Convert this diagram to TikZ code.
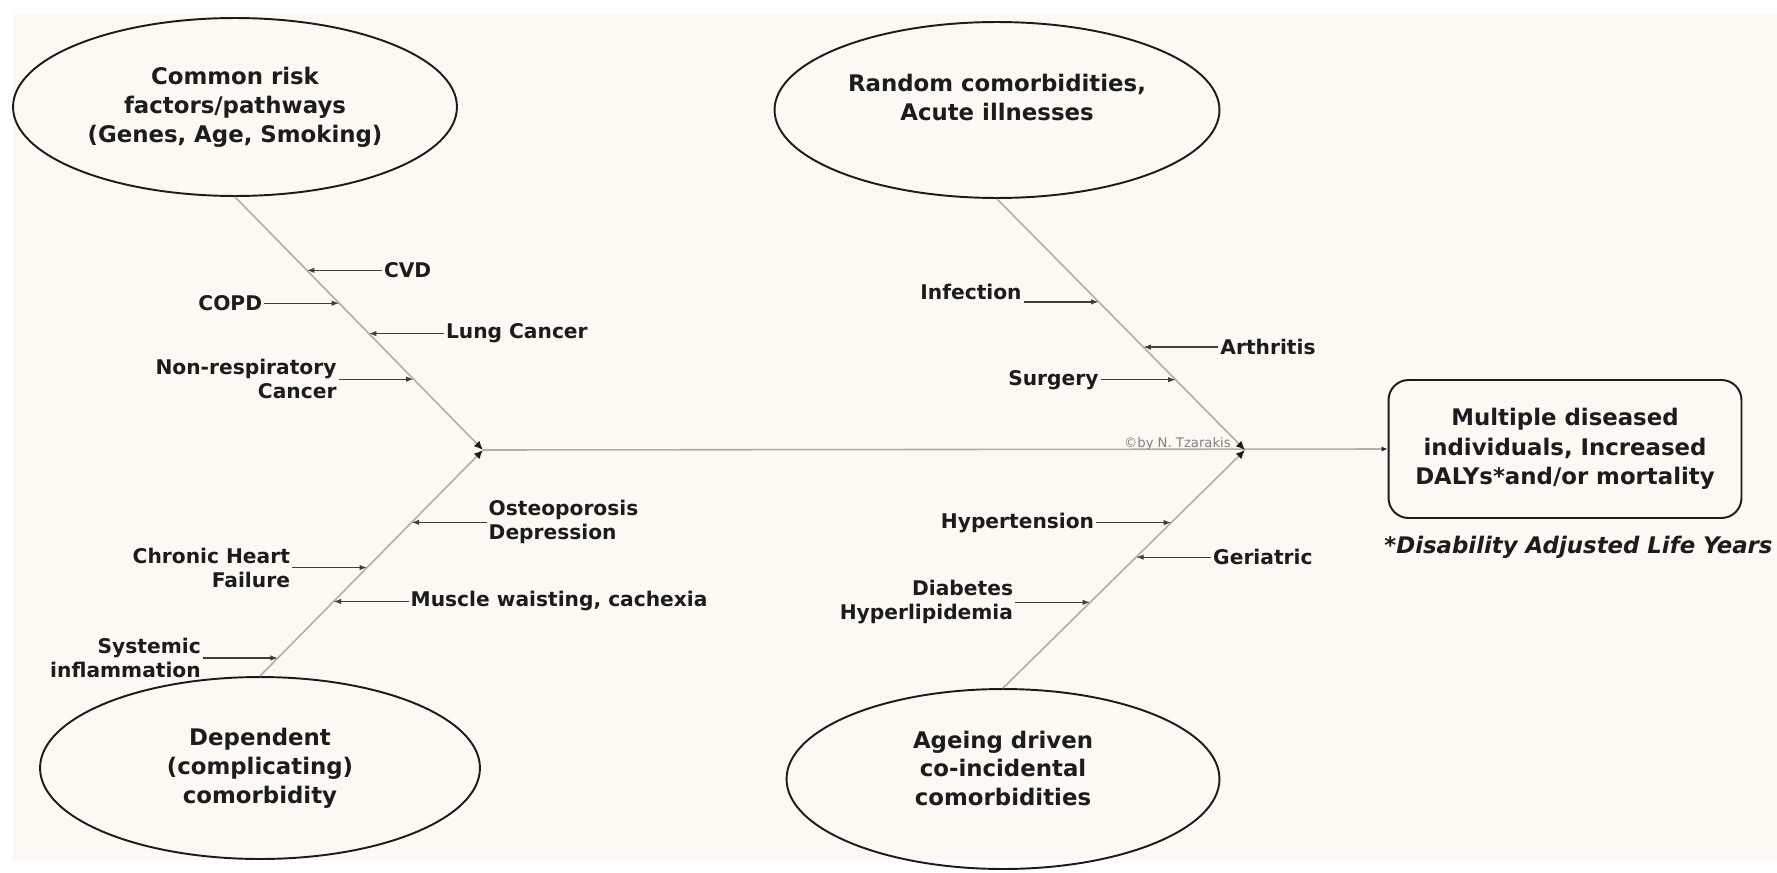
\documentclass[tikz,border=0pt]{standalone}
\usepackage{fontspec}
\setmainfont{DejaVu Sans}
\usepackage{xcolor}
\usepackage{tikz}
\usetikzlibrary{arrows.meta,positioning,shapes.geometric}

\definecolor{paper}{HTML}{FCF8F2}
\definecolor{bonegray}{HTML}{B3ADA7}
\definecolor{ink}{HTML}{1C1C1C}

\begin{document}
\begin{tikzpicture}[
  x=0.02cm, y=-0.02cm,
  node distance=1.5cm,
  ovaltext/.style={align=center, font=\fontsize{13}{16.4}\selectfont\bfseries, text=ink},
  oval/.style={ellipse, draw=ink, line width=1.1pt, inner sep=0pt, ovaltext},
  outbox/.style={draw=ink, line width=1.1pt, rounded corners=0.4cm, inner sep=0pt, align=center, font=\fontsize{13}{16.7}\selectfont\bfseries, text=ink},
  lbl/.style={font=\fontsize{11.5}{13.6}\selectfont\bfseries, text=ink, inner sep=1pt, align=#1},
  lbl/.default=center,
  bone/.style={draw=bonegray, line width=0.9pt, -{Latex[length=1.8mm, width=1.6mm, color=ink]}},
  spine/.style={draw=bonegray, line width=0.9pt, -{Latex[length=1.2mm, width=1mm, color=ink]}},
  arrow/.style={draw=ink!85, line width=0.7pt, -{Latex[length=1.5mm, width=1.1mm]}},
]
\fill[white] (0,0) rectangle (1777,872);
\fill[paper] (13,14) rectangle (1777,860);
\useasboundingbox (0,0) rectangle (1777,872);

\node[oval, minimum width=8.88cm, minimum height=3.56cm] (risk) at (235,107) {Common risk\\factors/pathways\\(Genes, Age, Smoking)};
\node[oval, minimum width=8.9cm, minimum height=3.52cm] (random) at (997,110) {};
\node[ovaltext, yshift=7pt] (random_txt) at (random) {Random comorbidities,\\Acute illnesses};
\node[oval, minimum width=8.8cm, minimum height=3.64cm] (dep) at (260,768) {Dependent\\(complicating)\\comorbidity};
\node[oval, minimum width=8.66cm, minimum height=3.6cm] (ageing) at (1003,779) {};
\node[ovaltext, yshift=6pt] (ageing_txt) at (ageing) {Ageing driven\\co-incidental\\comorbidities};

\node[outbox, minimum width=7.06cm, minimum height=2.76cm] (outcome) at (1565,449) {Multiple diseased\\individuals, Increased\\DALYs*and/or mortality};
\node[font=\fontsize{13}{16}\selectfont\bfseries\itshape, text=ink, anchor=base west, inner sep=0pt] (daly_note) at (1384,553) {*Disability Adjusted Life Years};

\coordinate (jl) at (483,450);
\coordinate (jr) at (1245,450);

\draw[spine] (jl) -- (outcome.west);
\node[font=\fontsize{7.5}{9}\selectfont, text=gray, anchor=base east, inner sep=0pt] (credit) at (1231,447) {©by N. Tzarakis};

\draw[bone] (risk.south) -- (jl) coordinate[pos=0.29] (t_cvd) coordinate[pos=0.42] (t_copd) coordinate[pos=0.54] (t_lung) coordinate[pos=0.72] (t_nonresp);
\draw[bone] (dep.north) -- (jl) coordinate[pos=0.08] (t_sys) coordinate[pos=0.33] (t_muscle) coordinate[pos=0.48] (t_chf) coordinate[pos=0.68] (t_osteo);
\draw[bone] (random.south) -- (jr) coordinate[pos=0.41] (t_inf) coordinate[pos=0.59] (t_arth) coordinate[pos=0.72] (t_surg);
\draw[bone] (ageing.north) -- (jr) coordinate[pos=0.36] (t_diab) coordinate[pos=0.55] (t_ger) coordinate[pos=0.695] (t_hyp);

\node[lbl, right=of t_cvd] (cvd) {CVD};
\node[lbl, left=of t_copd] (copd) {COPD};
\node[lbl, right=of t_lung] (lung) {Lung Cancer};
\node[lbl=right, left=of t_nonresp] (nonresp) {Non-respiratory\\Cancer};

\node[lbl=left, right=of t_osteo] (osteo) {Osteoporosis\\Depression};
\node[lbl=right, left=of t_chf] (chf) {Chronic Heart\\Failure};
\node[lbl, right=of t_muscle] (muscle) {Muscle waisting, cachexia};
\node[lbl=right, left=of t_sys] (sys) {Systemic\\inflammation};

\node[lbl, left=of t_inf, anchor=south east] (inf) {Infection};
\node[lbl, right=of t_arth] (arth) {Arthritis};
\node[lbl, left=of t_surg] (surg) {Surgery};

\node[lbl, left=of t_hyp] (hyp) {Hypertension};
\node[lbl, right=of t_ger] (ger) {Geriatric};
\node[lbl=right, left=of t_diab] (diab) {Diabetes\\Hyperlipidemia};

\draw[arrow] (cvd) -- (t_cvd);
\draw[arrow] (copd) -- (t_copd);
\draw[arrow] (lung) -- (t_lung);
\draw[arrow] (nonresp) -- (t_nonresp);
\draw[arrow] (osteo) -- (t_osteo);
\draw[arrow] (chf) -- (t_chf);
\draw[arrow] (muscle) -- (t_muscle);
\draw[arrow] (sys) -- (t_sys);
\draw[arrow] (inf.south east) -- (t_inf);
\draw[arrow] (arth) -- (t_arth);
\draw[arrow] (surg) -- (t_surg);
\draw[arrow] (hyp) -- (t_hyp);
\draw[arrow] (ger) -- (t_ger);
\draw[arrow] (diab) -- (t_diab);
\end{tikzpicture}
\end{document}
